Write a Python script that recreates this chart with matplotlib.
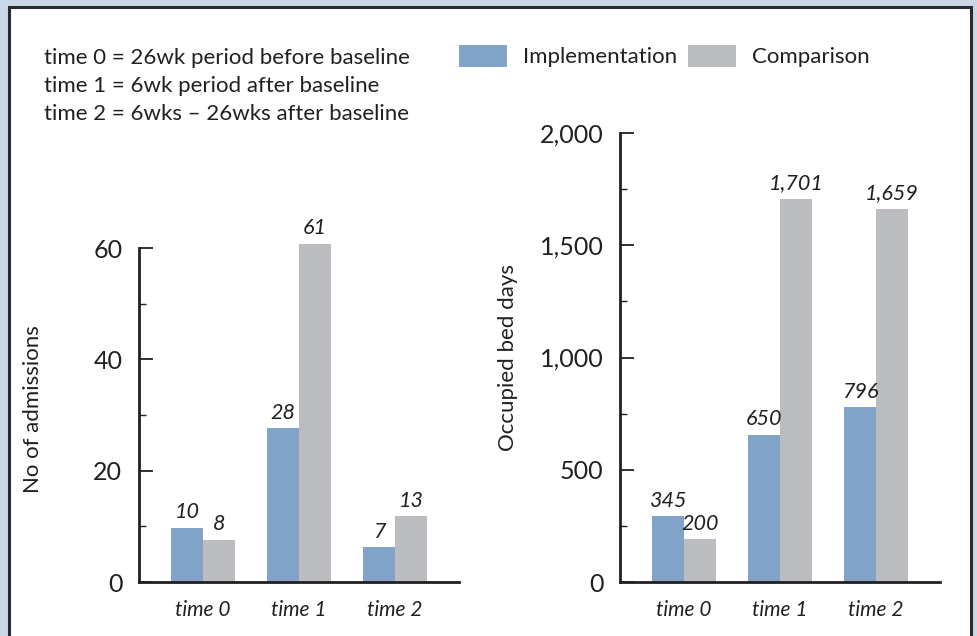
import matplotlib
matplotlib.use("Agg")
import matplotlib.pyplot as plt
from matplotlib.patches import Rectangle
import numpy as np

plt.rcParams['font.family'] = ['Lato', 'DejaVu Sans']

# ---- data ----
categories = ["time 0", "time 1", "time 2"]
adm_impl = [9.7, 27.6, 6.2]
adm_comp = [7.6, 60.8, 11.8]
adm_impl_labels = ["10", "28", "7"]
adm_comp_labels = ["8", "61", "13"]
obd_impl = [292, 655, 778]
obd_comp = [190, 1708, 1662]
obd_impl_labels = ["345", "650", "796"]
obd_comp_labels = ["200", "1,701", "1,659"]
adm_ticks = [0, 20, 40, 60]
obd_ticks = [0, 500, 1000, 1500, 2000]
obd_tick_labels = ["0", "500", "1,000", "1,500", "2,000"]
series_names = ["Implementation", "Comparison"]
notes = ["time 0 = 26wk period before baseline",
         "time 1 = 6wk period after baseline",
         "time 2 = 6wks \u2013 26wks after baseline"]

BLUE = "#82a3c8"
GREY = "#bbbcc0"
BG = "#c9d7e7"
DARK = "#231f20"

W, H = 977, 636
fig = plt.figure(figsize=(W / 100, H / 100), dpi=100)
fig.patch.set_facecolor(BG)

# white panel with dark border
fig.add_artist(Rectangle((8.5 / W, -0.05), (970.5 - 8.5) / W, 1 - 6.5 / H + 0.05,
                         transform=fig.transFigure, facecolor="white",
                         edgecolor="#2a2a2a", linewidth=2.2, zorder=0))

def px_axes(x0, x1, ybot, ytop):
    return fig.add_axes([x0 / W, 1 - ybot / H, (x1 - x0) / W, (ybot - ytop) / H])

x = np.arange(len(categories))
bw = 1 / 3

def setup(ax, impl, comp, impl_lab, comp_lab, ticks, ticklabels, minor, ylim, spine_top, ylabel, labx):
    ax.set_facecolor("none")
    b1 = ax.bar(x - bw / 2, impl, bw, color=BLUE, zorder=2, clip_on=False)
    b2 = ax.bar(x + bw / 2, comp, bw, color=GREY, zorder=2, clip_on=False)
    for bars, labs in ((b1, impl_lab), (b2, comp_lab)):
        for r, lab in zip(bars, labs):
            ax.annotate(lab, (r.get_x() + r.get_width() / 2, r.get_height()),
                        xytext=(0, 7), textcoords="offset points", ha="center",
                        va="baseline", fontsize=15.5, style="italic", color=DARK)
    ax.set_xlim(-2 / 3, 2 + 2 / 3)
    ax.set_ylim(*ylim)
    for s in ("top", "right"):
        ax.spines[s].set_visible(False)
    ax.spines["left"].set_bounds(0, spine_top)
    for s in ("left", "bottom"):
        ax.spines[s].set_linewidth(2.0)
        ax.spines[s].set_color(DARK)
    ax.set_yticks(ticks)
    ax.set_yticklabels(ticklabels)
    ax.set_yticks(minor, minor=True)
    ax.tick_params(axis="y", which="major", direction="in", length=10, width=1.3,
                   labelsize=18, pad=12, colors=DARK)
    ax.tick_params(axis="y", which="minor", direction="in", length=5, width=1.0, colors=DARK)
    ax.set_xticks(x)
    ax.set_xticklabels(categories, fontsize=15, style="italic", color=DARK)
    ax.tick_params(axis="x", length=0, pad=13)
    ax.set_ylabel(ylabel, fontsize=16, color=DARK)
    ax.yaxis.set_label_coords(labx, 0.5)
    return b1, b2

ax1 = px_axes(139, 459, 582, 582 - 62 * 334 / 60)
h = setup(ax1, adm_impl, adm_comp, adm_impl_labels, adm_comp_labels,
          adm_ticks, [str(t) for t in adm_ticks], [10, 30, 50], (0, 62), 60,
          "No of admissions", -0.30)

ax2 = px_axes(620, 940, 582, 133)
setup(ax2, obd_impl, obd_comp, obd_impl_labels, obd_comp_labels,
      obd_ticks, obd_tick_labels, [250, 750, 1250, 1750], (0, 2000), 2000,
      "Occupied bed days", -0.32)

for i, line in enumerate(notes):
    fig.text(44 / W, 1 - (58 + 28 * i) / H, line, fontsize=16, color=DARK,
             ha="left", va="center")

fig.legend(h, series_names, loc="center left", bbox_to_anchor=(459 / W, 1 - 56 / H),
           ncol=2, frameon=False, fontsize=16, handlelength=2.16, handleheight=1.13,
           handletextpad=0.72, columnspacing=0.5, borderpad=0, borderaxespad=0,
           labelcolor=DARK)

fig.savefig("out.png", dpi=100, facecolor=BG)
